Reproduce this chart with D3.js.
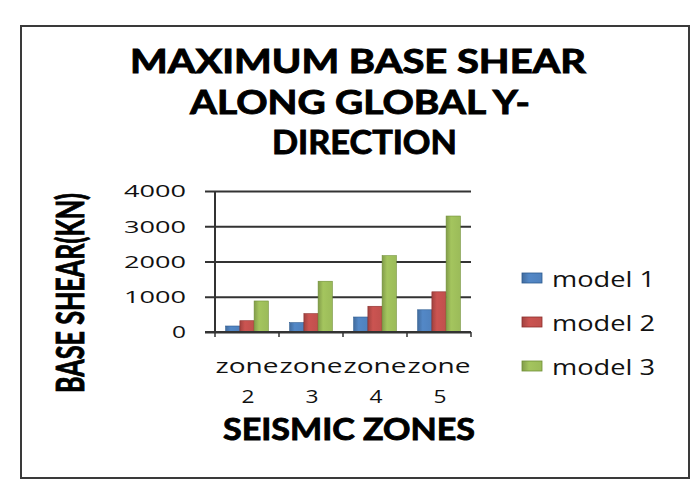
<!DOCTYPE html>
<html><head><meta charset="utf-8">
<script src="https://cdn.jsdelivr.net/npm/d3@7"></script>
<style>html,body{margin:0;padding:0;background:#fff;}svg{display:block;}</style>
</head><body>
<svg id="chart" width="696" height="490"></svg>
<script>
const categories = ["zone 2", "zone 3", "zone 4", "zone 5"];
const seriesNames = ["model 1", "model 2", "model 3"];
const model1 = [170, 265, 425, 630];
const model2 = [320, 520, 730, 1140];
const model3 = [880, 1440, 2165, 3290];
const yTicks = [0, 1000, 2000, 3000, 4000];
const titleLines = ["MAXIMUM BASE SHEAR", "ALONG GLOBAL Y-", "DIRECTION"];
const yTitle = "BASE SHEAR(KN)";
const xTitle = "SEISMIC ZONES";
const colors = ["#4F81BD", "#C0504D", "#9BBB59"];
const darks = ["#2c5a8f", "#8c2f2c", "#6f8f35"];

const values = [model1, model2, model3];
const svg = d3.select("#chart");
const font = "'Open Sans', 'DejaVu Sans', sans-serif";
const titleFont = "Lato, 'Open Sans', sans-serif";

// gradients
const defs = svg.append("defs");
colors.forEach((c, i) => {
  const g = defs.append("linearGradient").attr("id", "g" + i).attr("x1", "0").attr("x2", "1").attr("y1", "0").attr("y2", "0");
  g.append("stop").attr("offset", "0%").attr("stop-color", d3.color(c).darker(0.5));
  g.append("stop").attr("offset", "35%").attr("stop-color", d3.color(c).brighter(0.15));
  g.append("stop").attr("offset", "100%").attr("stop-color", c);
});

// frame
svg.append("rect").attr("x", 21).attr("y", 26).attr("width", 668).attr("height", 452)
  .attr("fill", "#fff").attr("stroke", "#3a3a3a").attr("stroke-width", 2);

// title
const titleSpecs = [
  {x: 130, base: 73, w: 456},
  {x: 190, base: 114, w: 340},
  {x: 272, base: 154, w: 185}
];
titleLines.forEach((t, i) => {
  const s = titleSpecs[i];
  svg.append("text").attr("x", s.x).attr("y", s.base).text(t)
    .attr("font-family", titleFont).attr("font-weight", 700).attr("font-size", 32)
    .attr("stroke", "#000").attr("stroke-width", 0.9)
    .attr("textLength", s.w).attr("lengthAdjust", "spacingAndGlyphs").attr("fill", "#000");
});

// scales
const plotL = 215, plotR = 471, plotT = 191, plotB = 332;
const x0 = d3.scaleBand().domain(categories).range([plotL, plotR]).padding(0);
const x1 = d3.scaleBand().domain(seriesNames).range([0, x0.bandwidth()]).paddingInner(0).paddingOuter(0.75);
const y = d3.scaleLinear().domain([0, 4000]).range([plotB, plotT]);

// gridlines + y tick labels via axis
const yAxis = svg.append("g").attr("transform", `translate(${plotL - 10},0)`)
  .call(d3.axisLeft(y).tickValues(yTicks).tickSize(-(plotR - plotL + 10)).tickPadding(19).tickFormat(d3.format("d")));
yAxis.select(".domain").remove();
yAxis.selectAll(".tick line").attr("stroke", "#333").attr("stroke-width", 1.8);
yAxis.selectAll(".tick text")
  .attr("font-family", font).attr("font-size", 16.5).attr("fill", "#111")
  .attr("dy", "0.36em")
  .attr("textLength", d => 16 * String(d).length - 2).attr("lengthAdjust", "spacingAndGlyphs");

// bars
const groups = svg.append("g").selectAll("g").data(categories).join("g")
  .attr("transform", d => `translate(${x0(d)},0)`);
groups.selectAll("rect")
  .data((d, ci) => seriesNames.map((s, si) => ({s, si, v: values[si][ci]})))
  .join("rect")
  .attr("x", d => x1(d.s))
  .attr("y", d => y(d.v))
  .attr("width", x1.bandwidth())
  .attr("height", d => y(0) - y(d.v))
  .attr("fill", d => `url(#g${d.si})`)
  .attr("stroke", d => darks[d.si]).attr("stroke-width", 0.6);

// y axis line and x axis line
svg.append("line").attr("x1", plotL).attr("x2", plotL).attr("y1", plotT).attr("y2", plotB)
  .attr("stroke", "#333").attr("stroke-width", 2);
svg.append("line").attr("x1", plotL - 10).attr("x2", plotR).attr("y1", plotB).attr("y2", plotB)
  .attr("stroke", "#333").attr("stroke-width", 2);
// x ticks at category boundaries
const bounds = categories.map(c => x0(c)).concat([plotR]);
svg.append("g").selectAll("line").data(bounds).join("line")
  .attr("x1", d => d).attr("x2", d => d).attr("y1", plotB).attr("y2", plotB + 5)
  .attr("stroke", "#333").attr("stroke-width", 1.5);

// x labels (two lines)
const xl = svg.append("g");
categories.forEach(c => {
  const [w1, w2] = c.split(" ");
  const cx = x0(c) + x0.bandwidth() / 2;
  xl.append("text").attr("x", cx - 31.5).attr("y", 373).text(w1)
    .attr("font-family", font).attr("font-size", 20.5).attr("fill", "#111")
    .attr("textLength", 63).attr("lengthAdjust", "spacingAndGlyphs");
  xl.append("text").attr("x", cx + 1).attr("y", 403).attr("text-anchor", "middle").text(w2)
    .attr("font-family", font).attr("font-size", 19).attr("fill", "#111")
    .attr("textLength", 13).attr("lengthAdjust", "spacingAndGlyphs");
});

// x title
svg.append("text").attr("x", 223).attr("y", 440).text(xTitle)
  .attr("font-family", titleFont).attr("font-weight", 700).attr("font-size", 31)
  .attr("stroke", "#000").attr("stroke-width", 0.9)
  .attr("textLength", 252).attr("lengthAdjust", "spacingAndGlyphs").attr("fill", "#000");

// y title (rotated)
svg.append("text").attr("transform", "translate(84,393) rotate(-90)")
  .attr("x", 0).attr("y", 0).text(yTitle)
  .attr("font-family", titleFont).attr("font-weight", 700).attr("font-size", 38)
  .attr("stroke", "#000").attr("stroke-width", 0.9)
  .attr("textLength", 200).attr("lengthAdjust", "spacingAndGlyphs").attr("fill", "#000");

// legend
const leg = svg.append("g").selectAll("g").data(seriesNames).join("g")
  .attr("transform", (d, i) => `translate(522,${273 + i * 44})`);
leg.append("rect").attr("width", 20).attr("height", 10)
  .attr("fill", (d, i) => `url(#g${i})`).attr("stroke", (d, i) => darks[i]).attr("stroke-width", 0.8);
leg.append("text").attr("x", 30).attr("y", 14).text(d => d)
  .attr("font-family", font).attr("font-size", 21.5).attr("fill", "#111")
  .attr("textLength", 103).attr("lengthAdjust", "spacingAndGlyphs");
</script>
</body></html>
